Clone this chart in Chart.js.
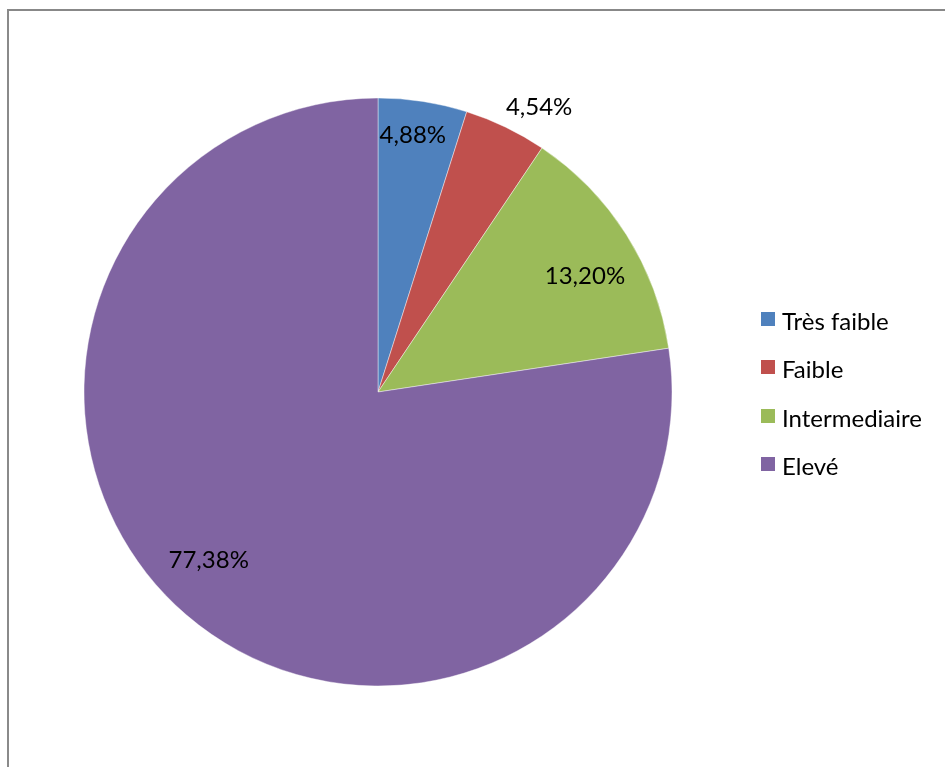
<!DOCTYPE html>
<html>
<head>
<meta charset="utf-8">
<script src="https://cdn.jsdelivr.net/npm/chart.js@4.4.0/dist/chart.umd.min.js"></script>
<style>
    html, body { margin: 0; padding: 0; background: #fff; overflow: hidden; }
    #wrap { position: relative; width: 945px; height: 767px; overflow: hidden; }
    #frame {
        position: absolute; left: 7px; top: 9px; width: 1000px; height: 800px;
        border-top: 2px solid #888; border-left: 2px solid #8a8a8a;
    }
    #chart { position: absolute; left: 0; top: 0; }
    #legend { position: absolute; left: 761px; top: 306px; font-family: Lato, 'Open Sans', sans-serif; font-size: 24px; color: #000; }
    #legend .item { height: 48.3px; display: flex; align-items: flex-start; }
    #legend .box { width: 14px; height: 14px; margin-top: 6px; margin-right: 7px; }
</style>
</head>
<body>
<div id="wrap">
    <div id="frame"></div>
    <canvas id="chart" width="945" height="767"></canvas>
    <div id="legend"></div>
</div>
<script>
// --- DATA ---
const categories = ['Très faible', 'Faible', 'Intermediaire', 'Elevé'];
const shares = [4.88, 4.54, 13.20, 77.38];
const sliceColors = ['#4F81BD', '#C0504D', '#9BBB59', '#8064A2'];

// where each percentage sits: angle shift (deg) from slice middle, fraction of radius
const labelSpots = [
    { shift: -1.1, dist: 0.886 },
    { shift: 3.7, dist: 1.115 },
    { shift: 2.8, dist: 0.809 },
    { shift: 4.6, dist: 0.81 }
];

const fmt = v => v.toFixed(2).replace('.', ',') + '%';

// percentage labels drawn on top of the arcs
const sliceLabels = {
    id: 'sliceLabels',
    afterDatasetsDraw(chart) {
        const { ctx } = chart;
        const meta = chart.getDatasetMeta(0);
        ctx.save();
        ctx.font = '24px Lato, "Open Sans", sans-serif';
        ctx.fillStyle = '#000';
        ctx.textAlign = 'center';
        ctx.textBaseline = 'middle';
        meta.data.forEach((arc, i) => {
            const p = arc.getProps(['x', 'y', 'startAngle', 'endAngle', 'outerRadius'], true);
            const spot = labelSpots[i];
            const a = (p.startAngle + p.endAngle) / 2 + spot.shift * Math.PI / 180;
            const r = p.outerRadius * spot.dist;
            ctx.fillText(fmt(shares[i]), p.x + r * Math.cos(a), p.y + r * Math.sin(a) + 1);
        });
        ctx.restore();
    }
};

new Chart(document.getElementById('chart'), {
    type: 'pie',
    data: {
        labels: categories,
        datasets: [{
            data: shares,
            backgroundColor: sliceColors,
            borderColor: 'rgba(255,255,255,0.7)',
            borderWidth: 0.6,
            radius: 294
        }]
    },
    options: {
        responsive: false,
        animation: false,
        layout: { padding: { left: 84, right: 273, top: 98, bottom: 81 } },
        plugins: {
            legend: { display: false },
            tooltip: { enabled: false }
        }
    },
    plugins: [sliceLabels]
});

// legend on the right
const legendEl = document.getElementById('legend');
categories.forEach((name, i) => {
    const row = document.createElement('div');
    row.className = 'item';
    row.innerHTML = `<span class="box" style="background:${sliceColors[i]}"></span><span>${name}</span>`;
    legendEl.appendChild(row);
});
</script>
</body>
</html>
